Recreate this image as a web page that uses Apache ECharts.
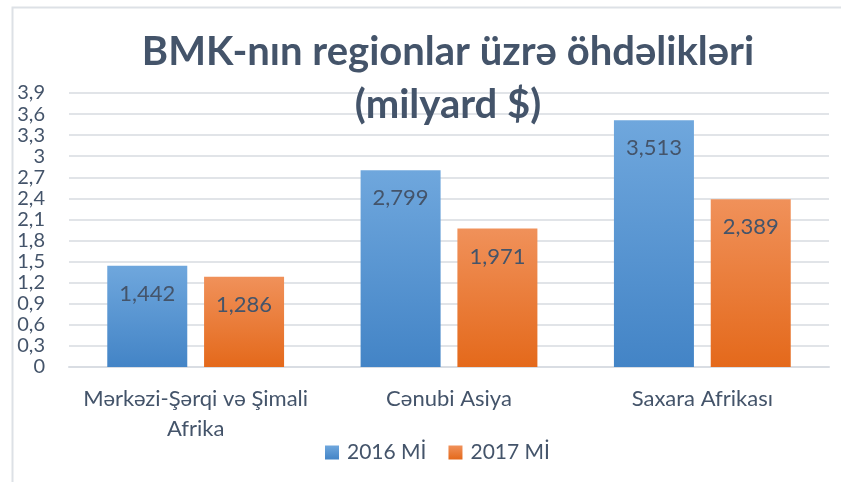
<!DOCTYPE html>
<html>
<head>
<meta charset="utf-8">
<script src="https://cdn.jsdelivr.net/npm/echarts@6/dist/echarts.min.js"></script>
<style>
  html, body { margin: 0; padding: 0; background: #fff; }
  #chartWrap { width: 841px; height: 482px; }
</style>
</head>
<body>
<div id="chartWrap"></div>
<script>
// regions and values (milyard $)
const categories = ['Mərkəzi-Şərqi və Şimali\nAfrika', 'Cənubi Asiya', 'Saxara Afrikası'];
const seriesNames = ['2016 Mİ', '2017 Mİ'];
const values2016 = [1.442, 2.799, 3.513];
const values2017 = [1.286, 1.971, 2.389];

const textColor = '#44546a';
const fontFam = 'Lato, "Open Sans", sans-serif';

function grad(top, bottom) {
    return new echarts.graphic.LinearGradient(0, 0, 0, 1, [
        {offset: 0, color: top},
        {offset: 1, color: bottom}
    ]);
}
const blue = grad('#6fa7dd', '#4384c6');
const orange = grad('#f0915a', '#e4691b');

function fmt(v) {
    return String(v).replace('.', ',');
}

const myChart = echarts.init(document.getElementById('chartWrap'));

myChart.setOption({
    animation: false,
    title: {
        text: 'BMK-nın regionlar üzrə öhdəlikləri\n(milyard $)',
        left: 443,
        textAlign: 'center',
        top: 21,
        textStyle: {
            fontFamily: fontFam,
            fontSize: 40,
            fontWeight: 'bold',
            color: textColor,
            lineHeight: 53
        }
    },
    graphic: [{
        type: 'rect',
        shape: {x: 12.5, y: 7.5, width: 900, height: 600},
        style: {fill: 'none', stroke: '#dde1e6', lineWidth: 2},
        silent: true,
        z: -1
    }],
    legend: {
        data: seriesNames,
        top: 437,
        left: 320,
        itemWidth: 14,
        itemHeight: 14,
        itemGap: 22,
        icon: 'rect',
        textStyle: {fontFamily: fontFam, fontSize: 21, color: textColor, padding: [0, 0, 0, 3]}
    },
    grid: {left: 69, right: 12, top: 93, bottom: 115},
    xAxis: {
        type: 'category',
        data: categories,
        axisLine: {lineStyle: {color: '#d9dde3', width: 2}},
        axisTick: {show: false},
        axisLabel: {
            interval: 0,
            hideOverlap: false,
            fontFamily: fontFam,
            fontSize: 22,
            color: textColor,
            lineHeight: 30,
            margin: 17
        }
    },
    yAxis: {
        type: 'value',
        min: 0,
        max: 3.9,
        interval: 0.3,
        axisLine: {show: false},
        axisTick: {show: false},
        splitLine: {lineStyle: {color: '#e1e4e8', width: 2}},
        axisLabel: {
            fontFamily: fontFam,
            fontSize: 20,
            color: textColor,
            margin: 24,
            formatter: function (v) { return fmt(Math.round(v * 10) / 10); }
        }
    },
    series: [
        {
            name: seriesNames[0],
            type: 'bar',
            data: values2016,
            barWidth: 80,
            barGap: '21%',
            itemStyle: {color: blue},
            label: {
                show: true,
                position: 'insideTop',
                distance: 17,
                fontFamily: fontFam,
                fontSize: 22,
                color: textColor,
                formatter: function (p) { return fmt(p.value); }
            }
        },
        {
            name: seriesNames[1],
            type: 'bar',
            data: values2017,
            barWidth: 80,
            itemStyle: {color: orange},
            label: {
                show: true,
                position: 'insideTop',
                distance: 17,
                fontFamily: fontFam,
                fontSize: 22,
                color: textColor,
                formatter: function (p) { return fmt(p.value); }
            }
        }
    ]
});
</script>
</body>
</html>
